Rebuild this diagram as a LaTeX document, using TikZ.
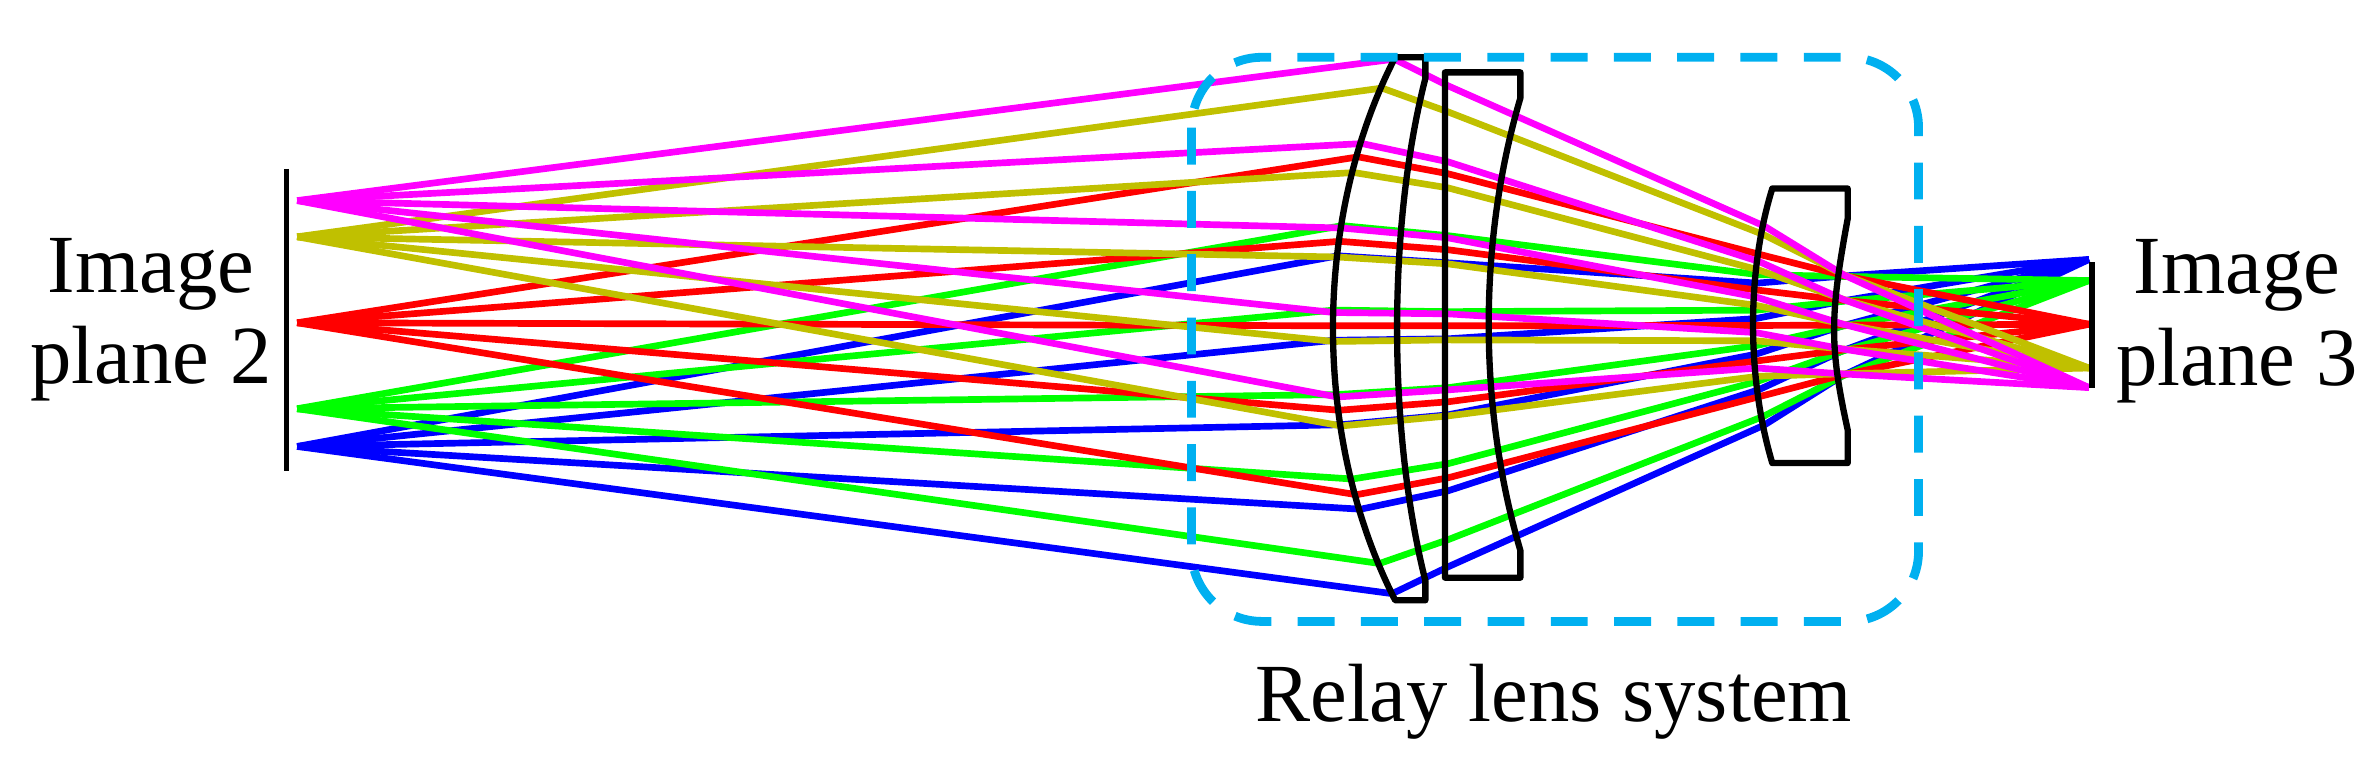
\documentclass[tikz,border=0pt]{standalone}
\usepackage{fontspec}
\setmainfont{Liberation Serif}
\definecolor{rblue}{RGB}{0,0,255}
\definecolor{rgreen}{RGB}{0,255,0}
\definecolor{rred}{RGB}{255,0,0}
\definecolor{rolive}{RGB}{192,192,0}
\definecolor{rmag}{RGB}{255,0,255}
\definecolor{boxcyan}{RGB}{0,176,240}
\tikzset{
  ray/.style={line width=1.9pt, line join=round},
  lens/.style={draw=black, line width=1.8pt, line join=round},
  relaybox/.style={draw=boxcyan, line width=2.5pt, dash pattern=on 10.5pt off 7.5pt, rounded corners=20pt},
  lbl/.style={font=\fontsize{23.5}{26}\selectfont, align=center, inner sep=0pt}
}
\begin{document}
\begin{tikzpicture}[x=0.015083cm, y=-0.015083cm]
\useasboundingbox (0,0) rectangle (1568,504.6);
% image plane 2
\draw[line width=1.6pt] (190,112) -- (190,312);
% rays
\foreach \ys/\yi/\col in {296/172/rblue, 271/186/rgreen, 214/215/rred, 157/244/rolive, 133/257/rmag} {
  \foreach \k in {-2,...,2} {
    \pgfmathsetmacro\h{216+(\ys-214)*0.8+\k*56}
    \pgfmathsetmacro\xa{884+41*((\h-218)/180)^2}
    \pgfmathsetmacro\hb{216+(\h-216)*0.9}
    \pgfmathsetmacro\hc{216+(\h-216)*0.42+(\yi-216)*0.2}
    \pgfmathsetmacro\xc{1164+11*((\hc-216)/91)^2}
    \pgfmathsetmacro\hd{\hc+(\yi-\hc)*0.3}
    \draw[ray,\col] (197,\ys) -- (\xa,\h) -- (960,\hb) -- (\xc,\hc) -- (1222,\hd) -- (1385,\yi);
  }
}
% lenses
\draw[lens] (925,38) -- (945,38) -- (945,52) .. controls (920,150) and (920,285) .. (945,385) -- (945,398) -- (925,398) .. controls (870,290) and (870,145) .. (925,38) -- cycle;
\draw[lens] (958,48) -- (1008,48) -- (1008,65) .. controls (980,160) and (980,270) .. (1008,365) -- (1008,383) -- (958,383) -- cycle;
\draw[lens] (1175,125) -- (1225,125) -- (1225,145) .. controls (1213,210) and (1213,230) .. (1225,285) -- (1225,307) -- (1175,307) .. controls (1158,250) and (1158,180) .. (1175,125) -- cycle;
% image plane 3
\draw[line width=1.6pt] (1387,174) -- (1387,257);
% relay box
\draw[relaybox] (790,38) rectangle (1272,412);
% labels
\node[lbl] (ip2) at (100,212) {Image\\plane 2};
\node[lbl] (ip3) at (1483,213) {Image\\plane 3};
\node[lbl] (rls) at (1030,465) {Relay lens system};
\end{tikzpicture}
\end{document}
